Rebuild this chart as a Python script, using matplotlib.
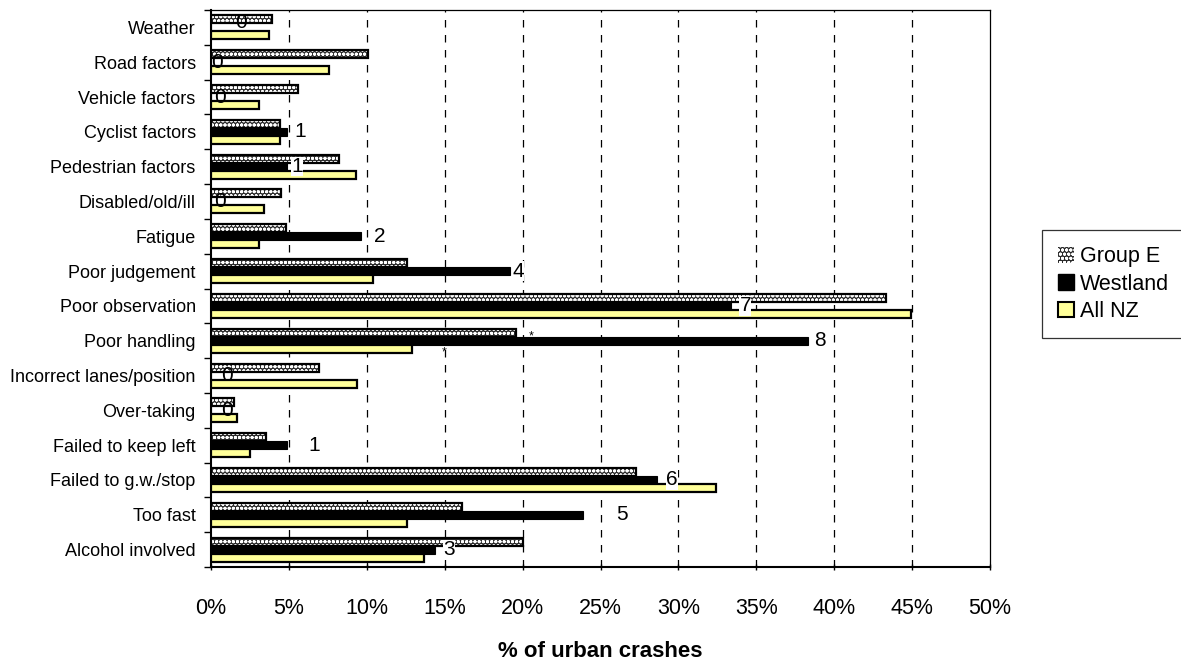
import numpy as np
import matplotlib
matplotlib.use("Agg")
import matplotlib.pyplot as plt
from matplotlib.patches import Patch
from matplotlib.ticker import PercentFormatter

plt.rcParams['font.family'] = ['Liberation Sans', 'DejaVu Sans']

# categories, top to bottom
categories = ["Weather", "Road factors", "Vehicle factors", "Cyclist factors",
              "Pedestrian factors", "Disabled/old/ill", "Fatigue", "Poor judgement",
              "Poor observation", "Poor handling", "Incorrect lanes/position",
              "Over-taking", "Failed to keep left", "Failed to g.w./stop",
              "Too fast", "Alcohol involved"]

# % of urban crashes
group_e = [3.9, 10.1, 5.6, 4.4, 8.2, 4.5, 4.8, 12.6, 43.3, 19.6, 6.9, 1.5, 3.5, 27.3, 16.1, 20.0]
westland = [0, 0, 0, 4.9, 4.9, 0, 9.6, 19.2, 33.4, 38.3, 0, 0, 4.9, 28.6, 23.9, 14.4]
all_nz = [3.7, 7.6, 3.1, 4.4, 9.3, 3.4, 3.1, 10.4, 44.9, 12.9, 9.4, 1.7, 2.5, 32.4, 12.6, 13.7]

# number of Westland crashes (data labels)
westland_counts = [0, 0, 0, 1, 1, 0, 2, 4, 7, 8, 0, 0, 1, 6, 5, 3]
# where Excel put each label (x, in %)
label_x = [1.9, 0.4, 0.6, 5.7, 5.5, 0.6, 10.8, 19.7, 34.3, 39.1, 1.0, 1.0, 6.6, 29.6, 26.4, 15.3]

fig = plt.figure(figsize=(11.81, 6.62), dpi=100)
ax = fig.add_axes([211/1181, 1 - 567/662, (990 - 211)/1181, (567 - 10)/662])

y = np.arange(len(categories))
h = 0.23

# Group E: dark bar with white dot pattern
ax.barh(y - h, group_e, height=h, color='#2a2a2a', edgecolor='white', hatch='oooo',
        linewidth=0, zorder=3)
ax.barh(y - h, group_e, height=h, facecolor='none', edgecolor='black', linewidth=1.6, zorder=4)
ax.barh(y, westland, height=h, color='black', edgecolor='black', linewidth=0.8, zorder=3)
ax.barh(y + h, all_nz, height=h, color='#FFFF99', edgecolor='black', linewidth=1.6, zorder=3)

for i, (n, lx) in enumerate(zip(westland_counts, label_x)):
    dy = -0.13 if i == 0 else 0
    ax.text(lx, y[i] + dy, str(n), ha='center', va='center', fontsize=15, zorder=5,
            bbox=dict(facecolor='white', edgecolor='none', pad=0.2) if n > 0 else None)

# significance markers on Poor handling
ph = categories.index("Poor handling")
ax.annotate('*', (group_e[ph], ph - h), xytext=(11, -3), textcoords='offset points',
            ha='center', va='center', fontsize=9, zorder=5)
ax.annotate('*', (all_nz[ph], ph + h), xytext=(23, -3), textcoords='offset points',
            ha='center', va='center', fontsize=9, zorder=5)

ax.set_xlim(0, 50)
ax.set_ylim(len(categories) - 0.5, -0.5)
ax.set_xticks(np.arange(0, 51, 5))
ax.xaxis.set_major_formatter(PercentFormatter(decimals=0))
ax.set_yticks(y)
ax.set_yticklabels(categories, fontsize=13)
ax.set_yticks(np.arange(-0.5, len(categories), 1), minor=True)
ax.tick_params(axis='y', which='major', length=0, pad=11)
ax.tick_params(axis='y', which='minor', length=5, direction='out', width=1)
ax.tick_params(axis='x', length=5, direction='inout', width=1, labelsize=15.5, pad=20)

for xv in np.arange(5, 50, 5):
    ax.axvline(xv, color='black', linestyle=(0, (6, 6)), linewidth=0.9, zorder=1)

for s in ax.spines.values():
    s.set_linewidth(0.9)
ax.spines['left'].set_linewidth(1.5)
ax.spines['bottom'].set_linewidth(1.5)

ax.set_xlabel("% of urban crashes", fontsize=16, fontweight='bold', labelpad=16)

handles = [Patch(facecolor='#2a2a2a', edgecolor='white', hatch='oooo', linewidth=0),
           Patch(facecolor='black', edgecolor='black'),
           Patch(facecolor='#FFFF99', edgecolor='black', linewidth=1.5)]
leg = fig.legend(handles, ["Group E", "Westland", "All NZ"], loc='upper left',
                 bbox_to_anchor=(1042/1181, 1 - 340/662, 0.2, 110/662), mode='expand',
                 fontsize=15.5, frameon=True,
                 fancybox=False, edgecolor='black', handlelength=0.75, handleheight=0.75,
                 handletextpad=0.25, borderpad=0.75, labelspacing=0.3, borderaxespad=0)
leg.get_frame().set_linewidth(0.9)

fig.savefig("out.png", dpi=100)
